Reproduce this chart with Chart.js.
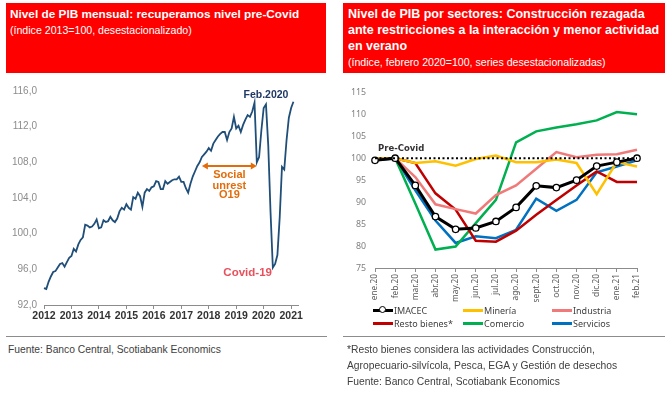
<!DOCTYPE html>
<html><head><meta charset="utf-8">
<script src="https://cdn.jsdelivr.net/npm/chart.js@4/dist/chart.umd.min.js"></script>
<style>
body{margin:0;background:#fff;width:670px;height:394px;position:relative;overflow:hidden;font-family:"Liberation Sans",Arial,sans-serif;}
.hdr{position:absolute;background:#ff0000;color:#fff;top:3px;height:70px;box-sizing:border-box;padding:3px 4px;}
.hdr .t{font-weight:bold;font-size:12.5px;line-height:16px;}
.hdr .s{font-size:10.6px;line-height:14px;margin-top:1px;}
.rule{position:absolute;height:1px;background:#8c8c8c;top:336px;}
.foot{position:absolute;font-size:10.3px;color:#404040;line-height:16px;}
.leg{position:absolute;font-family:"Noto Sans",sans-serif;font-size:9px;color:#404040;height:13px;line-height:13px;}
.sym{display:inline-block;width:20px;height:3px;vertical-align:middle;margin-right:1px;position:relative;top:-1px;}
.dot{position:absolute;left:6px;top:-3px;width:5px;height:5px;border:1.5px solid #000;border-radius:50%;background:#fff;}
canvas{position:absolute;}
</style></head>
<body>
<div class="hdr" style="left:6px;width:320px;">
  <div class="t" style="font-size:11.8px;">Nivel de PIB mensual: recuperamos nivel pre-Covid</div>
  <div class="s">(índice 2013=100, desestacionalizado)</div>
</div>
<div class="hdr" style="left:343px;width:322px;padding-left:5px;">
  <div class="t">Nivel de PIB por sectores: Construcción rezagada ante restricciones a la interacción y menor actividad en verano</div>
  <div class="s">(índice, febrero 2020=100, series desestacionalizadas)</div>
</div>

<div style="position:absolute;left:0;top:78px;width:310px;height:248px;"><canvas id="c1" width="310" height="248"></canvas></div>
<div style="position:absolute;left:335px;top:78px;width:330px;height:232px;"><canvas id="c2" width="330" height="232"></canvas></div>

<div id="legend"></div>

<div class="rule" style="left:6px;width:321px;"></div>
<div class="rule" style="left:343px;width:322px;"></div>
<div class="foot" style="left:8px;top:342px;">Fuente: Banco Central, Scotiabank Economics</div>
<div class="foot" style="left:347px;top:342px;">*Resto bienes considera las actividades Construcción,<br>Agropecuario-silvícola, Pesca, EGA y Gestión de desechos<br>Fuente: Banco Central, Scotiabank Economics</div>

<script>
// ---------- Left chart data ----------
const startYear = 2012;
const endYear = 2021;
const yearTicks = ['2012','2013','2014','2015','2016','2017','2018','2019','2020','2021'];
const pib = [
  93.9, 93.8, 94.6, 95.2, 95.7, 95.8, 96.2, 96.6, 96.7, 96.3, 96.8, 97.3,
  97.5, 98.3, 98.0, 98.8, 99.3, 99.6, 101.0, 100.9, 100.7, 100.8, 101.1, 101.6,
  100.6, 100.7, 101.5, 101.3, 101.4, 101.9, 101.5, 101.3, 101.7, 102.5, 102.9, 102.7,
  103.3, 102.9, 102.7, 104.1, 103.9, 104.6, 104.2, 103.0, 104.6, 105.0, 104.8, 105.2,
  105.3, 105.9, 105.8, 105.0, 105.0, 105.9, 105.6, 105.8, 106.0, 106.1, 106.1, 106.4,
  105.8, 105.8, 105.1, 104.6, 105.6, 106.4, 107.0, 107.6, 108.0, 108.6, 108.9, 109.2,
  109.6, 109.3, 110.1, 110.5, 110.9, 111.2, 111.4, 111.4, 110.5, 111.4, 111.8, 113.1,
  111.8, 112.1, 111.4, 112.2, 112.8, 113.3, 113.1, 113.7, 114.7, 108.0, 108.6, 111.6,
  114.1, 114.5, 109.9, 102.4, 96.2, 96.6, 97.6, 101.8, 107.5, 107.2, 110.5, 113.0,
  114.1, 114.8
];
const yTicksLeft = [92, 96, 100, 104, 108, 112, 116];

// ---------- Right chart data ----------
const months = ['ene.20','feb.20','mar.20','abr.20','may.20','jun.20','jul.20','ago.20','sept.20','oct.20','nov.20','dic.20','ene.21','feb.21'];
const imacec    = [99.5, 100, 93.8, 86.7, 83.8, 84.1, 85.6, 88.8, 93.7, 93.3, 95.0, 98.2, 99.1, 100.0];
const mineria   = [99.8, 100, 98.9, 99.3, 98.3, 99.8, 100.6, 99.1, 99.1, 99.7, 98.9, 91.8, 99.1, 98.1];
const industria = [99.8, 100, 95.7, 89.5, 88.4, 87.4, 91.6, 93.8, 97.6, 101.4, 100.2, 100.8, 100.9, 101.9];
const resto     = [99.8, 100, 98.9, 92.0, 88.3, 81.2, 81.0, 83.5, 87.1, 90.5, 93.8, 97.0, 94.6, 94.6];
const comercio  = [99.8, 100, 89.7, 79.2, 79.9, 85.2, 90.5, 103.6, 106.1, 107.0, 107.7, 108.6, 110.5, 110.0];
const servicios = [99.5, 100, 92.7, 85.8, 80.7, 82.2, 81.8, 83.7, 90.8, 88.0, 90.5, 96.8, 98.1, 99.5];
const preCovid  = [100, 100, 100, 100, 100, 100, 100, 100, 100, 100, 100, 100, 100, 100];
const seriesNames = ['IMACEC','Minería','Industria','Resto bienes*','Comercio','Servicios'];

// month category labels Jan 2012 .. Apr 2021 (axis extends slightly beyond data)
const monthLabels = [];
for (let y = startYear; y <= endYear; y++) {
  for (let m = 1; m <= 12; m++) {
    if (y === endYear && m > 4) break;
    monthLabels.push(y + '-' + (m < 10 ? '0' + m : m));
  }
}

const idxOf = (lbl) => monthLabels.indexOf(lbl);

const leftAnno = {
  id: 'leftAnno',
  afterDatasetsDraw(chart) {
    const {ctx, scales: {x, y}} = chart;
    ctx.save();
    ctx.font = 'bold 10.5px "Liberation Sans", Arial, sans-serif';
    ctx.fillStyle = '#1F3864';
    ctx.textAlign = 'center';
    ctx.textBaseline = 'middle';
    ctx.fillText('Feb.2020', x.getPixelForValue(idxOf('2020-02')), y.getPixelForValue(115.5));
    const orange = '#E36C0A';
    const xa = x.getPixelForValue(idxOf('2017-10'));
    const xb = x.getPixelForValue(idxOf('2019-10'));
    const ya = y.getPixelForValue(107.6);
    ctx.strokeStyle = orange; ctx.fillStyle = orange; ctx.lineWidth = 2;
    ctx.beginPath(); ctx.moveTo(xa + 4, ya); ctx.lineTo(xb - 4, ya); ctx.stroke();
    ctx.beginPath(); ctx.moveTo(xa, ya); ctx.lineTo(xa + 6, ya - 3.5); ctx.lineTo(xa + 6, ya + 3.5); ctx.closePath(); ctx.fill();
    ctx.beginPath(); ctx.moveTo(xb, ya); ctx.lineTo(xb - 6, ya - 3.5); ctx.lineTo(xb - 6, ya + 3.5); ctx.closePath(); ctx.fill();
    ctx.font = 'bold 11px "Liberation Sans", Arial, sans-serif';
    const xt = x.getPixelForValue(idxOf('2018-10'));
    ctx.fillText('Social', xt, y.getPixelForValue(106.6));
    ctx.fillText('unrest', xt, y.getPixelForValue(105.4));
    ctx.fillText('O19', xt, y.getPixelForValue(104.3));
    ctx.font = 'bold 11.5px "Liberation Sans", Arial, sans-serif';
    ctx.fillStyle = '#E8505B';
    ctx.fillText('Covid-19', x.getPixelForValue(idxOf('2019-06')), y.getPixelForValue(95.6));
    ctx.restore();
  }
};

new Chart(document.getElementById('c1'), {
  type: 'line',
  data: {
    labels: monthLabels,
    datasets: [{ data: pib, borderColor: '#1F4E79', borderWidth: 1.8, pointRadius: 0, tension: 0, fill: false }]
  },
  options: {
    responsive: false, animation: false, events: [],
    layout: { padding: { left: 0, right: 12, top: 8, bottom: 3 } },
    plugins: { legend: { display: false }, tooltip: { enabled: false } },
    scales: {
      x: {
        type: 'category', offset: false,
        afterFit(s) { s.height = 18; },
        grid: { drawOnChartArea: false, drawTicks: true, tickLength: 4, color: '#8c8c8c' },
        border: { display: true, color: '#8c8c8c', width: 1 },
        ticks: {
          autoSkip: false, maxRotation: 0, minRotation: 0, padding: 1,
          color: '#333333', font: { family: '"Liberation Sans", Arial, sans-serif', size: 10.5, weight: 'bold' },
          callback(v, i) { return (i % 12 === 0) ? yearTicks[i / 12] : null; }
        }
      },
      y: {
        min: 92, max: 116,
        afterFit(s) { s.width = 44; },
        afterBuildTicks(s) { s.ticks = yTicksLeft.map(v => ({ value: v })); },
        grid: { display: false, drawTicks: false },
        border: { display: false },
        ticks: {
          padding: 7, color: '#8c8c8c',
          font: { family: '"Liberation Sans", Arial, sans-serif', size: 10 },
          callback(v) { return v.toFixed(1).replace('.', ','); }
        }
      }
    }
  },
  plugins: [leftAnno]
});

const rightAnno = {
  id: 'rightAnno',
  afterDatasetsDraw(chart) {
    const {ctx, scales: {x, y}} = chart;
    ctx.save();
    ctx.font = 'bold 8.5px "DejaVu Sans", sans-serif';
    ctx.fillStyle = '#333333';
    ctx.textAlign = 'left';
    ctx.textBaseline = 'middle';
    ctx.fillText('Pre-Covid', x.getPixelForValue(0) + 3, y.getPixelForValue(102.1));
    ctx.restore();
  }
};

const colors = ['#000000', '#FFC000', '#F07A7A', '#C00000', '#00B050', '#0070C0'];
const seriesData = [imacec, mineria, industria, resto, comercio, servicios];

const rDatasets = [{
  data: preCovid, borderColor: '#000000', borderWidth: 2, borderDash: [2, 2.5],
  pointRadius: 0, tension: 0, order: 0
}];
seriesData.forEach((d, i) => {
  rDatasets.push({
    label: seriesNames[i], data: d, borderColor: colors[i],
    borderWidth: i === 0 ? 3 : 2.5, tension: 0,
    pointRadius: i === 0 ? 3.2 : 0, pointBackgroundColor: '#ffffff',
    pointBorderColor: '#000000', pointBorderWidth: 1.3,
    order: i === 0 ? 1 : 2 + i
  });
});

new Chart(document.getElementById('c2'), {
  type: 'line',
  data: { labels: months, datasets: rDatasets },
  options: {
    responsive: false, animation: false, events: [],
    layout: { padding: { left: 0, right: 28, top: 12, bottom: 8 } },
    plugins: { legend: { display: false }, tooltip: { enabled: false } },
    scales: {
      x: {
        type: 'category', offset: false,
        afterFit(s) { s.height = 34; },
        grid: { drawOnChartArea: false, drawTicks: true, tickLength: 4, color: '#8c8c8c' },
        border: { display: true, color: '#8c8c8c', width: 1 },
        ticks: {
          autoSkip: false, maxRotation: 90, minRotation: 90, padding: 2,
          color: '#595959', font: { family: '"Noto Sans", sans-serif', size: 8.3 }
        }
      },
      y: {
        min: 75, max: 115,
        afterFit(s) { s.width = 40; },
        grid: { display: false, drawTicks: false },
        border: { display: false },
        ticks: {
          stepSize: 5, padding: 9, color: '#7f7f7f',
          font: { family: '"Noto Sans", sans-serif', size: 8.8 }
        }
      }
    }
  },
  plugins: [rightAnno]
});

const legPos = [[373, 304], [463, 304], [552, 304], [373, 317], [463, 317], [552, 317]];
const legend = document.getElementById('legend');
seriesNames.forEach((n, i) => {
  const d = document.createElement('div');
  d.className = 'leg';
  d.style.left = legPos[i][0] + 'px';
  d.style.top = legPos[i][1] + 'px';
  const s = document.createElement('span');
  s.className = 'sym';
  s.style.background = colors[i];
  if (i === 0) { const dot = document.createElement('span'); dot.className = 'dot'; s.appendChild(dot); }
  d.appendChild(s);
  d.appendChild(document.createTextNode(n));
  legend.appendChild(d);
});
</script>
</body></html>
